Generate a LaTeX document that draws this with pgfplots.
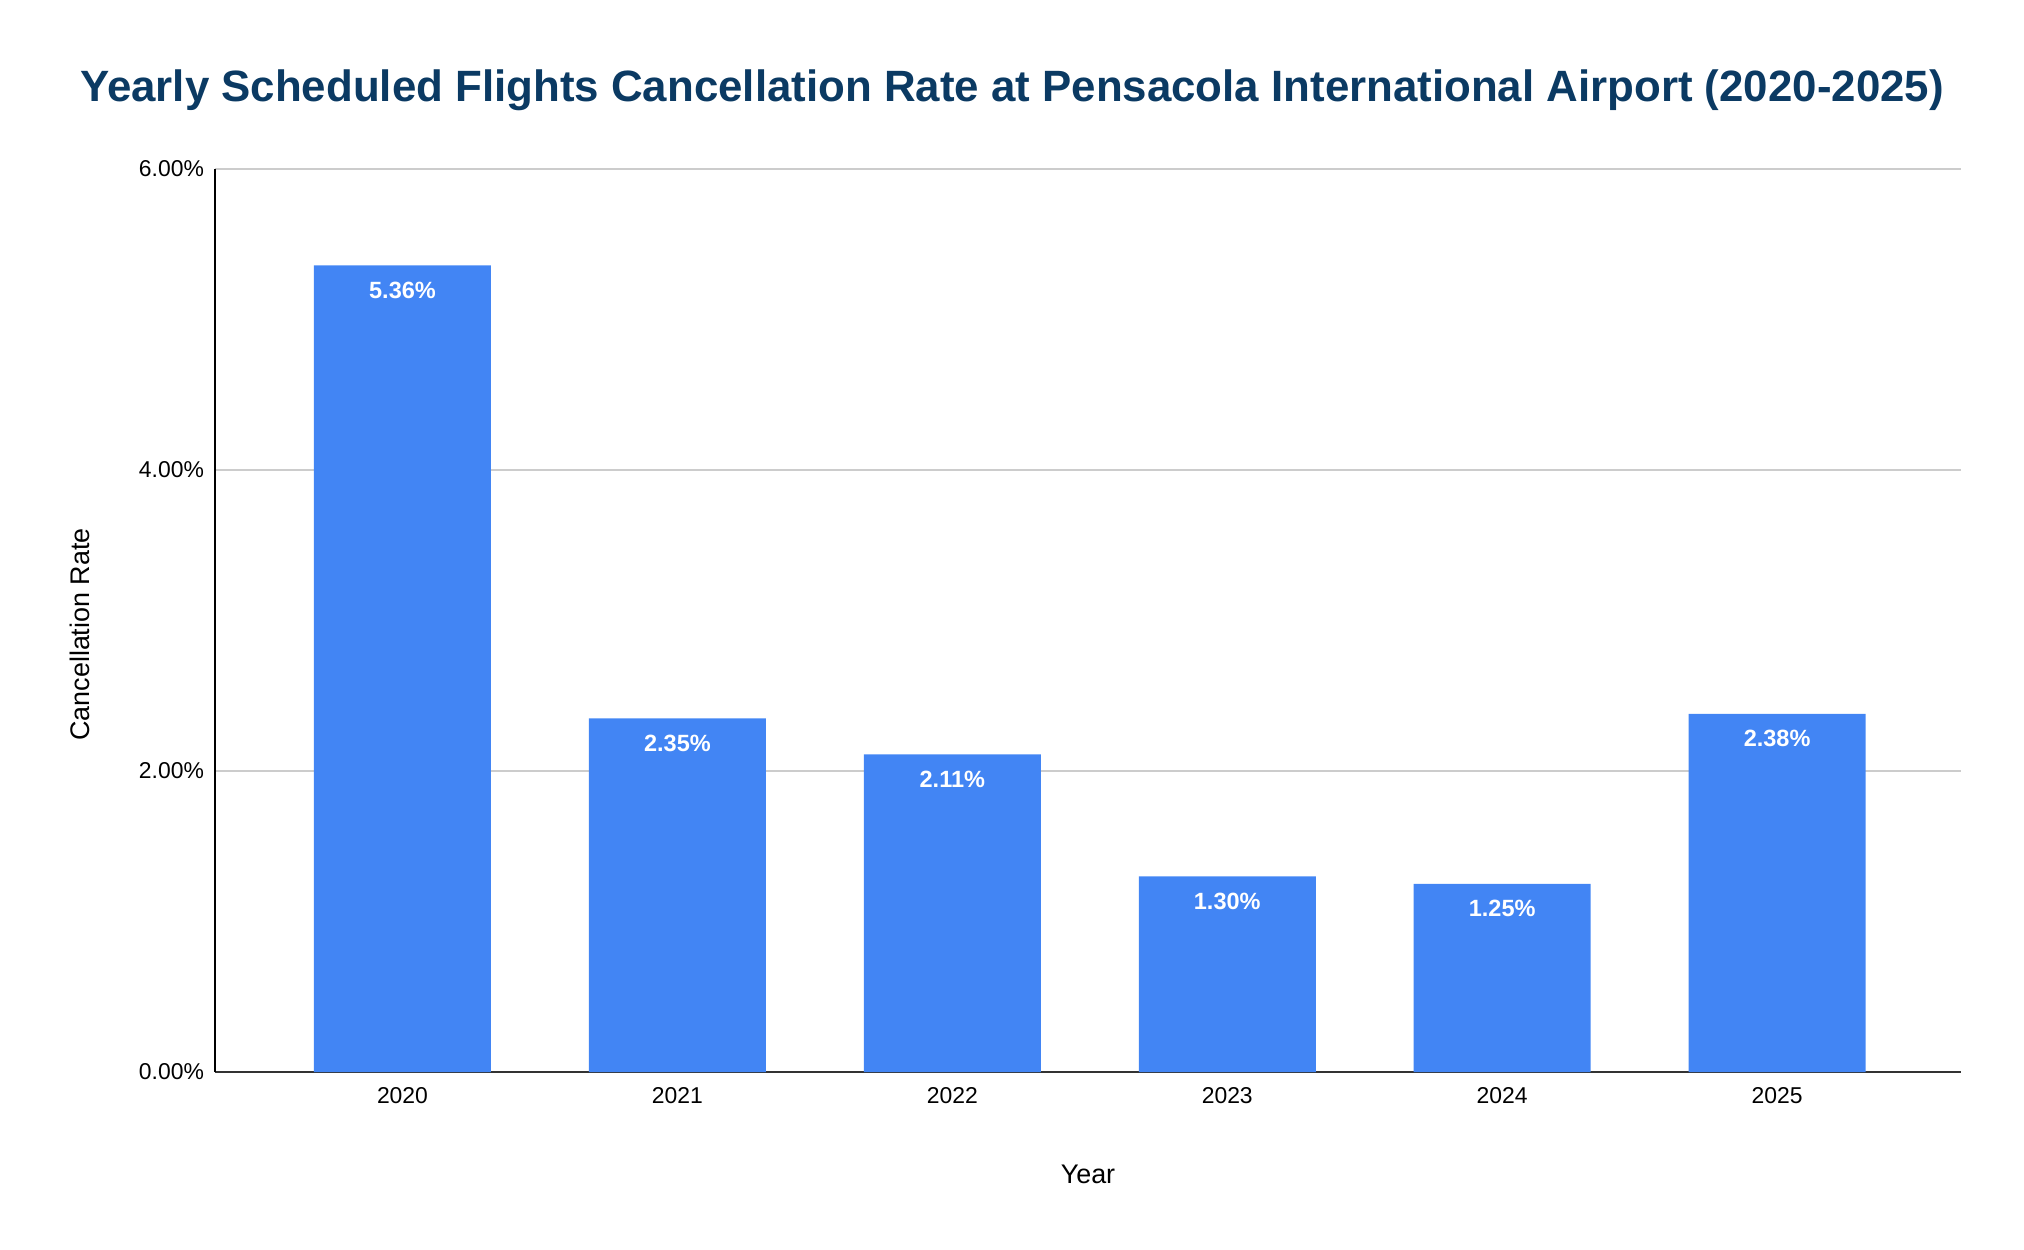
\documentclass[border=0pt]{standalone}
\usepackage{pgfplots}
\pgfplotsset{compat=1.18}
\usepackage{fontspec}
\setmainfont{Liberation Sans}
\definecolor{barblue}{HTML}{4285F4}
\definecolor{titleblue}{HTML}{0B3A63}
\definecolor{gridgray}{HTML}{CCCCCC}
\begin{document}
\begin{tikzpicture}
\useasboundingbox (-107.5bp,-89bp) rectangle (904.5bp,536bp);
\begin{axis}[
  at={(0,0)}, anchor=south west,
  scale only axis,
  width=873bp, height=451.5bp,
  xmin=-0.682, xmax=5.669,
  ymin=0, ymax=6,
  axis x line=bottom, axis y line=left,
  axis line style={-},
  x axis line style={draw=black!80, line width=1.2pt},
  y axis line style={draw=black, line width=1.2pt},
  xtick={0,1,2,3,4,5},
  xticklabels={2020,2021,2022,2023,2024,2025},
  ytick={0,2,4,6},
  yticklabel={\pgfmathprintnumber[fixed,fixed zerofill,precision=2]{\tick}\%},
  /pgf/number format/assume math mode=true,
  major tick length=0pt,
  ymajorgrids,
  grid style={gridgray, line width=0.9pt},
  tick label style={font=\fontsize{11.5}{13}\selectfont, text=black},
  yticklabel style={xshift=-2bp},
  xticklabel style={yshift=-4bp},
  xlabel={Year},
  ylabel={Cancellation Rate},
  label style={font=\fontsize{13.5}{15}\selectfont},
  xlabel style={at={(axis description cs:0.5,0)}, anchor=base, yshift=-55.5bp},
  ylabel style={at={(axis description cs:-0.0773,0.4845)}, anchor=center},
  clip=false,
]
\addplot[ybar, bar width=88.5bp, fill=barblue, draw=none,
  nodes near coords={\pgfmathprintnumber[fixed,fixed zerofill,precision=2]{\pgfplotspointmeta}\%},
  nodes near coords style={anchor=base, yshift=-16.5bp, text=white, font=\bfseries\fontsize{11.8}{13}\selectfont},
] coordinates {(0,5.36) (1,2.35) (2,2.11) (3,1.30) (4,1.25) (5,2.38)};
\end{axis}
\node[anchor=base, text=titleblue, font=\bfseries\fontsize{22}{26}\selectfont] at (398.5bp,485bp) {Yearly Scheduled Flights Cancellation Rate at Pensacola International Airport (2020-2025)};
\end{tikzpicture}
\end{document}
